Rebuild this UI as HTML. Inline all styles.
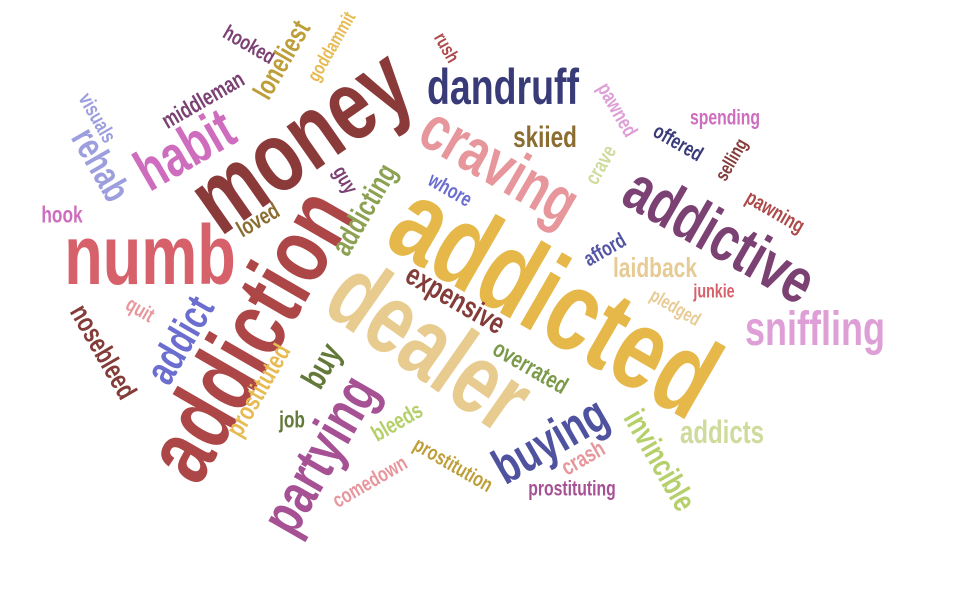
<!DOCTYPE html>
<html><head><meta charset="utf-8"><style>
html,body{margin:0;padding:0;background:#fff;}
#cloud{position:relative;width:960px;height:600px;overflow:hidden;}
.w{position:absolute;white-space:nowrap;line-height:1;font-family:"Liberation Sans Narrow","Liberation Sans",sans-serif;font-weight:bold;}
</style></head><body>
<div id="cloud"></div>
<script>
const words=["money","addicted","dealer","addiction","numb","dandruff","craving","addictive","sniffling","partying","buying","habit","rehab","addict","expensive","addicting","invincible","addicts","laidback","skiied","overrated","prostituted","buy","job","bleeds","prostitution","comedown","crash","prostituting","nosebleed","quit","hook","loved","visuals","middleman","hooked","loneliest","goddammit","guy","whore","rush","crave","pawned","offered","spending","selling","pawning","afford","junkie","pledged"];
const weights=[100,115,100,95,84,50,64,64,48,58,50,58,38,42,30,30,32,32,28,30,24,26,34,23,23,21,21,23,21,28,21,23,23,21,23,21,28,19,21,21,19,21,21,21,21,19,21,21,19,19];
const rotations=[-35,30,35,-60,0,0,30,30,0,-60,-30,-30,60,-60,30,-60,60,0,0,0,30,-60,-60,0,-30,30,-30,-30,0,60,30,0,-30,60,-30,30,-60,-60,60,30,60,-60,60,30,0,-60,30,-30,0,30];
const colors=["#8b3a3a","#e6b84a","#e8cb8f","#ad4747","#d6616b","#393b79","#e7969c","#7b4173","#de9ed6","#a55194","#4f529f","#ce6dbd","#9c9ede","#6b6ecf","#843c39","#8ca252","#b5cf6b","#cedb9c","#e7cb94","#8c6d31","#7b9a4a","#e7ba52","#637939","#637939","#b5cf6b","#bd9e39","#e7969c","#e7969c","#a55194","#843c39","#e7969c","#ce6dbd","#8c6d31","#9c9ede","#7b4173","#7b4173","#bd9e39","#e7ba52","#7b4173","#6b6ecf","#ad494a","#cedb9c","#de9ed6","#393b79","#ce6dbd","#843c39","#ad494a","#5254a3","#d6616b","#e7cb94"];
// layout (cloud placement) for each word, center x/y
const layoutX=[300,555,430,250,150,503,500,720,815,320,550,185,100,180,455,365,660,722,655,545,530,258,322,292,397,453,370,583,572,103,140,62,258,97,203,249,282,332,345,450,446,601,617,678,725,732,775,605,714,675];
const layoutY=[140,300,345,335,255,87,165,235,330,455,440,150,165,340,300,210,460,432,268,138,368,390,366,420,422,465,482,458,489,352,310,215,220,118,100,45,60,47,180,190,48,165,110,143,118,160,212,250,292,308];
const cloud=document.getElementById('cloud');
for(let i=0;i<words.length;i++){
  const el=document.createElement('div');
  el.className='w';
  el.textContent=words[i];
  
  
  el.style.fontSize=weights[i]+'px';
  el.style.color=colors[i];
  el.style.left=layoutX[i]+'px';
  el.style.top=layoutY[i]+'px';
  el.style.transform='translate(-50%,-50%) rotate('+rotations[i]+'deg) scaleX(0.75)';
  cloud.appendChild(el);
}
</script>
</body></html>
